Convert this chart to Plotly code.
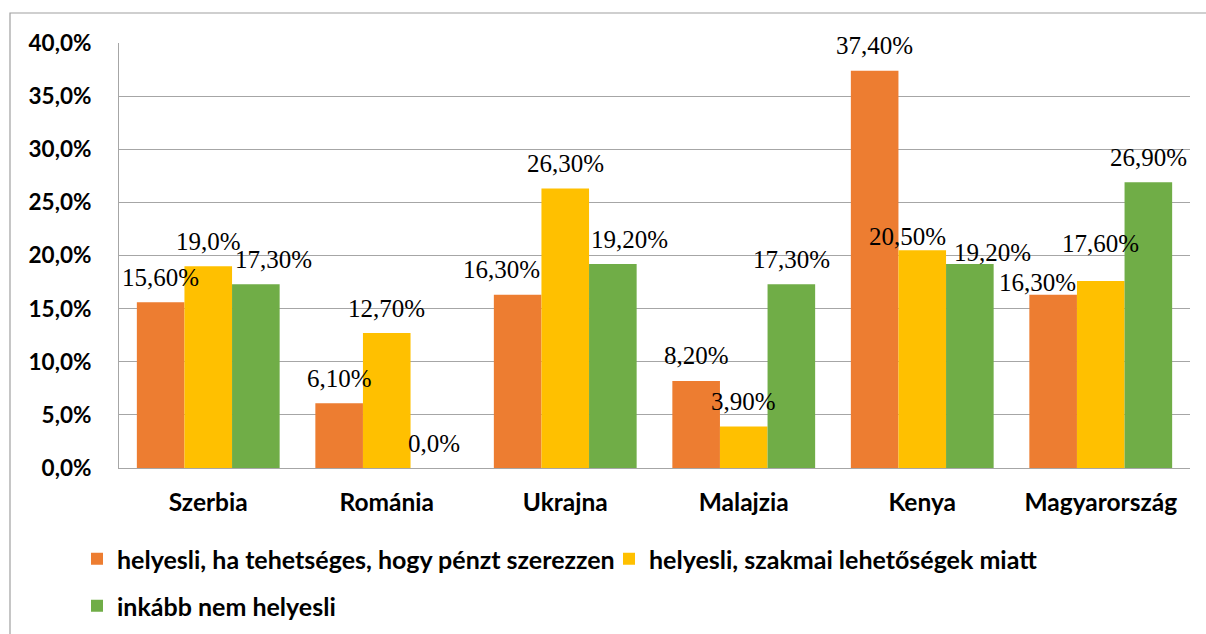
import plotly.graph_objects as go

# Survey responses by country (percent)
countries = ["Szerbia", "Románia", "Ukrajna", "Malajzia", "Kenya", "Magyarország"]

series_names = [
    "helyesli, ha tehetséges, hogy pénzt szerezzen",
    "helyesli, szakmai lehetőségek miatt",
    "inkább nem helyesli",
]
approve_money = [15.6, 6.1, 16.3, 8.2, 37.4, 16.3]
approve_career = [19.0, 12.7, 26.3, 3.9, 20.5, 17.6]
rather_not = [17.3, 0.0, 19.2, 17.3, 19.2, 26.9]

# decimals printed on each value label
decimals_money = [2, 2, 2, 2, 2, 2]
decimals_career = [1, 2, 2, 2, 2, 2]
decimals_not = [2, 1, 2, 2, 2, 2]

colors = ["#ED7D31", "#FFC000", "#70AD47"]
values = [approve_money, approve_career, rather_not]
decimals = [decimals_money, decimals_career, decimals_not]

# page geometry (pixels)
W, H = 1206, 634
M_L, M_R, M_T, M_B = 119, 16, 43, 166
PLOT_W = W - M_L - M_R
PLOT_H = H - M_T - M_B
BARGAP = 0.2
BAR_PX = PLOT_W / len(countries) * (1 - BARGAP) / 3

# label nudges in pixels (series index, country index) -> (dx, dy)
nudges = {
    (2, 0): (18, 0),
    (0, 2): (-16, 0),
    (2, 2): (17, 0),
    (1, 4): (-15, -11),
    (2, 4): (23, -13),
    (0, 5): (-16, -13),
    (1, 5): (0, 13),
}

LABEL_FONT = dict(family="Liberation Serif", size=25, color="#000000")
YTICK_FONT = dict(family="Lato", size=22.5, color="#000000", weight="bold")
XTICK_FONT = dict(family="Lato", size=24.5, color="#000000", weight="bold")
LEGEND_FONT = dict(family="Lato", size=25, color="#000000", weight="bold")
GRID = "#A6A6A6"


def px_to_xpaper(px):
    return (px - M_L) / PLOT_W


def px_to_ypaper(py):
    return (H - M_B - py) / PLOT_H


fig = go.Figure()
for i, (name, vals, col) in enumerate(zip(series_names, values, colors)):
    fig.add_trace(go.Bar(
        x=countries, y=vals, name=name, marker_color=col,
        marker_line_width=0,
        legend="legend" if i < 2 else "legend2",
        hoverinfo="skip",
    ))

annotations = []
for i, (vals, decs) in enumerate(zip(values, decimals)):
    for j, (c, v, d) in enumerate(zip(countries, vals, decs)):
        dx, dy = nudges.get((i, j), (0, 0))
        txt = f"{v:.{d}f}".replace(".", ",") + "%"
        annotations.append(dict(
            x=c, y=v, xref="x", yref="y", text=txt, showarrow=False,
            xanchor="center", yanchor="middle",
            xshift=(i - 1) * BAR_PX + dx, yshift=25 + dy,
            font=LABEL_FONT,
        ))

fig.update_layout(
    width=W, height=H,
    margin=dict(l=M_L, r=M_R, t=M_T, b=M_B, autoexpand=False),
    paper_bgcolor="white", plot_bgcolor="white",
    barmode="group", bargap=BARGAP, bargroupgap=0,
    separators=",.",
    annotations=annotations,
    showlegend=True,
    legend=dict(
        orientation="h", x=px_to_xpaper(77), y=px_to_ypaper(559),
        xanchor="left", yanchor="middle",
        entrywidth=487, entrywidthmode="pixels",
        font=LEGEND_FONT, bgcolor="rgba(0,0,0,0)", itemclick=False,
    ),
    legend2=dict(
        orientation="h", x=px_to_xpaper(77), y=px_to_ypaper(606),
        xanchor="left", yanchor="middle",
        font=LEGEND_FONT, bgcolor="rgba(0,0,0,0)", itemclick=False,
    ),
    shapes=[dict(
        type="rect", xref="paper", yref="paper",
        x0=px_to_xpaper(10), x1=px_to_xpaper(W + 20),
        y0=px_to_ypaper(H + 20), y1=px_to_ypaper(13),
        line=dict(color="#A0A0A0", width=1.2), fillcolor="rgba(0,0,0,0)",
        layer="below",
    )],
)

fig.update_xaxes(
    showline=True, linecolor=GRID, linewidth=1.2,
    showgrid=False, ticks="", tickfont=XTICK_FONT,
    ticklabelstandoff=12,
)
fig.update_yaxes(
    range=[0, 40], dtick=5, tick0=0,
    tickformat=".1f", ticksuffix="%",
    showline=True, linecolor=GRID, linewidth=1.2,
    showgrid=True, gridcolor=GRID, gridwidth=1.2,
    zeroline=False, ticks="", tickfont=YTICK_FONT,
    ticklabelstandoff=22,
)

fig.write_html("out.html")
